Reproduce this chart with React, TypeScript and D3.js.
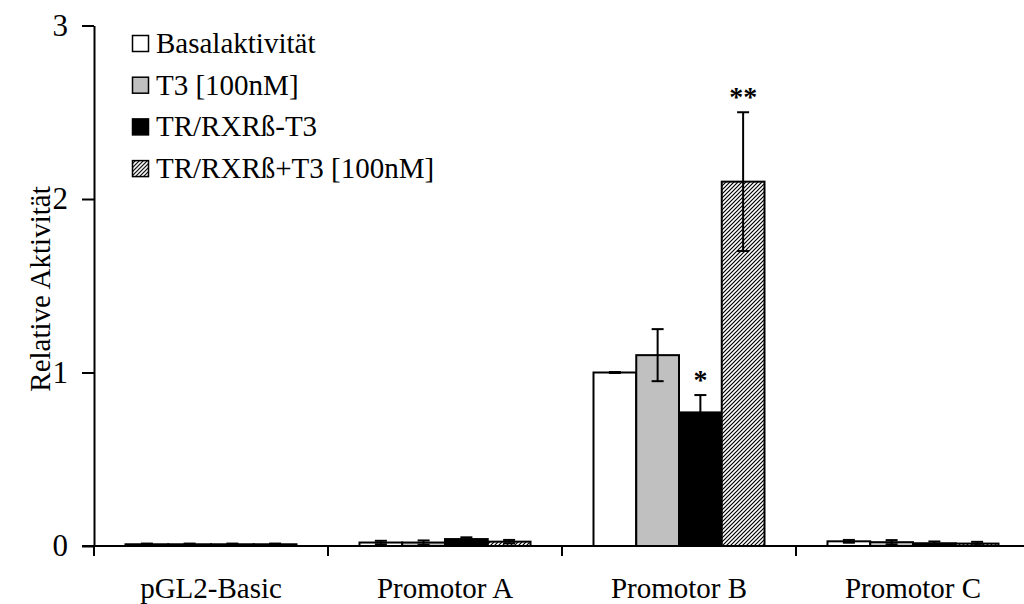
import { useEffect, useRef } from 'react';
import * as d3 from 'd3';

// groups on the x axis
const categories = ['pGL2-Basic', 'Promotor A', 'Promotor B', 'Promotor C'];
// series (legend order)
const seriesNames = ['Basalaktivität', 'T3 [100nM]', 'TR/RXRß-T3', 'TR/RXRß+T3 [100nM]'];
// values per series, one per category
const basal = [0.01, 0.02, 1.0, 0.027];
const t3 = [0.01, 0.02, 1.1, 0.022];
const trMinus = [0.01, 0.04, 0.77, 0.016];
const trPlus = [0.01, 0.025, 2.1, 0.014];
// error bar half-widths
const basalErr = [0.004, 0.01, 0.003, 0.008];
const t3Err = [0.004, 0.012, 0.15, 0.012];
const trMinusErr = [0.004, 0.01, 0.1, 0.01];
const trPlusErr = [0.004, 0.01, 0.4, 0.01];
// significance marks
const stars = [
  { cat: 'Promotor B', series: 2, label: '*' },
  { cat: 'Promotor B', series: 3, label: '**' },
];
const yTicks = [0, 1, 2, 3];

const FONT = '"Liberation Serif", "Times New Roman", serif';

export default function App() {
  const svgRef = useRef<SVGSVGElement>(null);
  const width = 1024;
  const height = 604;

  useEffect(() => {
    const svg = d3.select(svgRef.current);
    svg.selectAll('*').remove();

    const values = [basal, t3, trMinus, trPlus];
    const errs = [basalErr, t3Err, trMinusErr, trPlusErr];
    const fills = ['#ffffff', '#c0c0c0', '#000000', 'url(#hatch)'];

    const defs = svg.append('defs');
    const pat = defs.append('pattern').attr('id', 'hatch')
      .attr('patternUnits', 'userSpaceOnUse').attr('width', 4).attr('height', 4);
    pat.append('rect').attr('width', 4).attr('height', 4).attr('fill', '#fff');
    pat.append('path').attr('d', 'M-1,1 l2,-2 M0,4 l4,-4 M3,5 l2,-2')
      .attr('stroke', '#000').attr('stroke-width', 1.2);

    const x0 = d3.scaleBand().domain(categories).range([94, 1030]).padding(0);
    const x1 = d3.scaleBand().domain(d3.range(4).map(String))
      .range([31.5, x0.bandwidth() - 31.5]).padding(0);
    const y = d3.scaleLinear().domain([0, 3]).range([546, 25.5]);

    const g = svg.append('g');

    // bars
    values.forEach((vals, si) => {
      g.selectAll(`.bar${si}`).data(categories).join('rect')
        .attr('x', (c) => (x0(c) ?? 0) + (x1(String(si)) ?? 0))
        .attr('width', x1.bandwidth())
        .attr('y', (_, i) => y(vals[i]))
        .attr('height', (_, i) => y(0) - y(vals[i]))
        .attr('fill', fills[si])
        .attr('stroke', '#000').attr('stroke-width', 2);
    });

    // error bars
    values.forEach((vals, si) => {
      categories.forEach((c, i) => {
        const cx = (x0(c) ?? 0) + (x1(String(si)) ?? 0) + x1.bandwidth() / 2;
        const lo = y(vals[i] - errs[si][i]);
        const hi = y(vals[i] + errs[si][i]);
        g.append('line').attr('x1', cx).attr('x2', cx).attr('y1', lo).attr('y2', hi)
          .attr('stroke', '#000').attr('stroke-width', 2);
        [lo, hi].forEach((yy) => {
          g.append('line').attr('x1', cx - 6).attr('x2', cx + 6).attr('y1', yy).attr('y2', yy)
            .attr('stroke', '#000').attr('stroke-width', 2);
        });
      });
    });

    // stars
    stars.forEach((s) => {
      const i = categories.indexOf(s.cat);
      const cx = (x0(s.cat) ?? 0) + (x1(String(s.series)) ?? 0) + x1.bandwidth() / 2;
      g.append('text').attr('x', cx).attr('y', y(values[s.series][i] + errs[s.series][i]) - 6)
        .attr('text-anchor', 'middle').attr('font-family', FONT).attr('font-size', 28)
        .attr('font-weight', 'bold').text(s.label);
    });

    // y axis
    const ya = svg.append('g').attr('transform', 'translate(94,0)')
      .call(d3.axisLeft(y).tickValues(yTicks).tickFormat(d3.format('d')).tickSizeInner(12).tickSizeOuter(0).tickPadding(14));
    ya.select('.domain').attr('stroke-width', 2);
    ya.selectAll('.tick line').attr('stroke-width', 2);
    ya.selectAll('.tick text').attr('font-family', FONT).attr('font-size', 31).attr('fill', '#000');

    // x axis
    const xa = svg.append('g').attr('transform', 'translate(0,546)');
    xa.append('line').attr('x1', 82).attr('x2', 1030).attr('y1', 0).attr('y2', 0)
      .attr('stroke', '#000').attr('stroke-width', 2);
    xa.selectAll('.sep').data(categories.concat(['end'])).join('line')
      .attr('x1', (_, i) => x0.range()[0] + i * x0.step())
      .attr('x2', (_, i) => x0.range()[0] + i * x0.step())
      .attr('y1', 0).attr('y2', 10).attr('stroke', '#000').attr('stroke-width', 2);
    xa.selectAll('.lab').data(categories).join('text')
      .attr('x', (c) => (x0(c) ?? 0) + x0.bandwidth() / 2)
      .attr('y', 52).attr('text-anchor', 'middle')
      .attr('font-family', FONT).attr('font-size', 29).text((c) => c);

    // y title
    svg.append('text').attr('transform', 'translate(50,289) rotate(-90)')
      .attr('text-anchor', 'middle').attr('font-family', FONT).attr('font-size', 29)
      .text('Relative Aktivität');

    // legend
    const leg = svg.append('g').attr('transform', 'translate(132,35)');
    seriesNames.forEach((name, si) => {
      const row = leg.append('g').attr('transform', `translate(0,${si * 41.7})`);
      row.append('rect').attr('x', 0.5).attr('y', 0.5).attr('width', 16).attr('height', 16)
        .attr('fill', fills[si]).attr('stroke', '#000').attr('stroke-width', 1.5);
      row.append('text').attr('x', 24).attr('y', 18).attr('font-family', FONT)
        .attr('font-size', 29).text(name);
    });
  }, []);

  return (
    <svg ref={svgRef} width={width} height={height}
      style={{ position: 'absolute', left: 0, top: 0, background: '#fff' }} />
  );
}
